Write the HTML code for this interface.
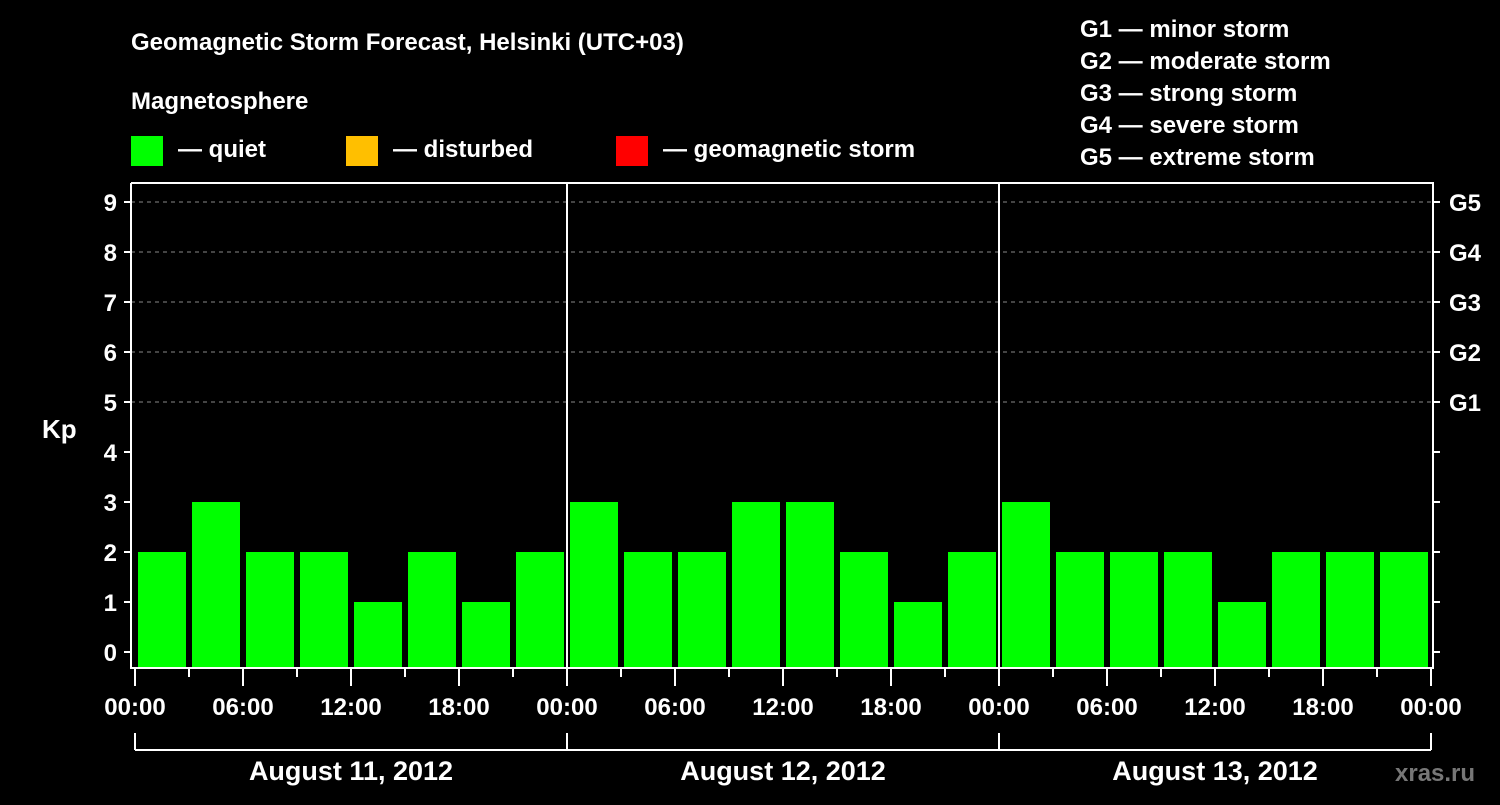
<!DOCTYPE html>
<html><head><meta charset="utf-8"><style>
html,body{margin:0;padding:0;background:#000;}
svg text{font-family:"Liberation Sans",Arial,sans-serif;font-weight:bold;fill:#fff;}
</style></head><body>
<svg id="chart" width="1500" height="800" viewBox="0 0 1500 800" xmlns="http://www.w3.org/2000/svg">
<rect width="1500" height="800" fill="#000"/>
<text x="131" y="50" font-size="24">Geomagnetic Storm Forecast, Helsinki (UTC+03)</text>
<text x="131" y="109" font-size="24">Magnetosphere</text>
<rect x="131" y="136" width="32" height="30" fill="#00ff00"/>
<text x="178" y="157" font-size="24">— quiet</text>
<rect x="346" y="136" width="32" height="30" fill="#ffbf00"/>
<text x="393" y="157" font-size="24">— disturbed</text>
<rect x="616" y="136" width="32" height="30" fill="#ff0000"/>
<text x="663" y="157" font-size="24">— geomagnetic storm</text>
<g font-size="24">
<text x="1080" y="37">G1 — minor storm</text>
<text x="1080" y="69">G2 — moderate storm</text>
<text x="1080" y="101">G3 — strong storm</text>
<text x="1080" y="133">G4 — severe storm</text>
<text x="1080" y="165">G5 — extreme storm</text>
</g>
<text x="42" y="438" font-size="26">Kp</text>
<text x="1395" y="781" font-size="24" style="fill:#777">xras.ru</text>
<g id="grid"></g><g id="bars"></g><g id="axes"></g>
</svg>
<script>
const days = ["August 11, 2012","August 12, 2012","August 13, 2012"];
const kpValues = [2,3,2,2,1,2,1,2, 3,2,2,3,3,2,1,2, 3,2,2,2,1,2,2,2];
const yTicks = [0,1,2,3,4,5,6,7,8,9];
const gLabels = ["G1","G2","G3","G4","G5"];
const hourLabels = ["00:00","06:00","12:00","18:00"];

const NS="http://www.w3.org/2000/svg";
const X0=135, X1=1431, YT=183, YB=668;
const y = v => 652 - v*50;
const x = h => X0 + h*(X1-X0)/72;
function mk(tag,attrs,parent,txt){const e=document.createElementNS(NS,tag);for(const k in attrs)e.setAttribute(k,attrs[k]);if(txt!==undefined)e.textContent=txt;parent.appendChild(e);return e;}
const grid=document.getElementById('grid'),bars=document.getElementById('bars'),axes=document.getElementById('axes');

yTicks.forEach(v=>{
  if(v>=5){const l=mk('line',{x1:X0-4,x2:X1,y1:y(v),y2:y(v),stroke:'#888','stroke-dasharray':'4 4','stroke-width':1},grid);
  
  }
  mk('line',{x1:124,x2:131,y1:y(v),y2:y(v),stroke:'#fff','stroke-width':2},axes);
  mk('line',{x1:X1+2,x2:X1+9,y1:y(v),y2:y(v),stroke:'#fff','stroke-width':2},axes);
  const t=mk('text',{x:117,y:y(v)+9,'font-size':24,'text-anchor':'end'},axes,String(v));
  
  
});
gLabels.forEach((g,i)=>{
  const t=mk('text',{x:1449,y:y(5+i)+9,'font-size':24},axes,g);
  
  
});
kpValues.forEach((v,i)=>{
  const c = v>=5?'#ff0000':(v>=4?'#ffbf00':'#00ff00');
  const r=mk('rect',{x:x(i*3)+3,y:y(v),width:48,height:YB-y(v),fill:c},bars);
  
  
});
// frame
mk('polyline',{points:`131,${YT} 131,${YB} ${X1+2},${YB} ${X1+2},${YT} 131,${YT}`,fill:'none',stroke:'#fff','stroke-width':2},axes);
days.forEach((d,di)=>{
  if(di>0) mk('line',{x1:x(di*24),x2:x(di*24),y1:YT,y2:YB,stroke:'#fff','stroke-width':2},axes);
  const t=mk('text',{x:(x(di*24)+x(di*24+24))/2,y:780,'font-size':27,'text-anchor':'middle'},axes,d);
  
  
  mk('line',{x1:x(di*24),x2:x(di*24),y1:733,y2:750,stroke:'#fff','stroke-width':2},axes);
  mk('line',{x1:x(di*24),x2:x(di*24+24),y1:750,y2:750,stroke:'#fff','stroke-width':2},axes);
});
mk('line',{x1:X1,x2:X1,y1:733,y2:750,stroke:'#fff','stroke-width':2},axes);
for(let h=0;h<=72;h+=3){
  const major=h%6===0;
  mk('line',{x1:x(h),x2:x(h),y1:YB,y2:major?686:677,stroke:'#fff','stroke-width':2},axes);
  if(major){
    const t=mk('text',{x:x(h),y:715,'font-size':24,'text-anchor':'middle'},axes,hourLabels[(h/6)%4]);
    
    
  }
}
</script>
</body></html>
